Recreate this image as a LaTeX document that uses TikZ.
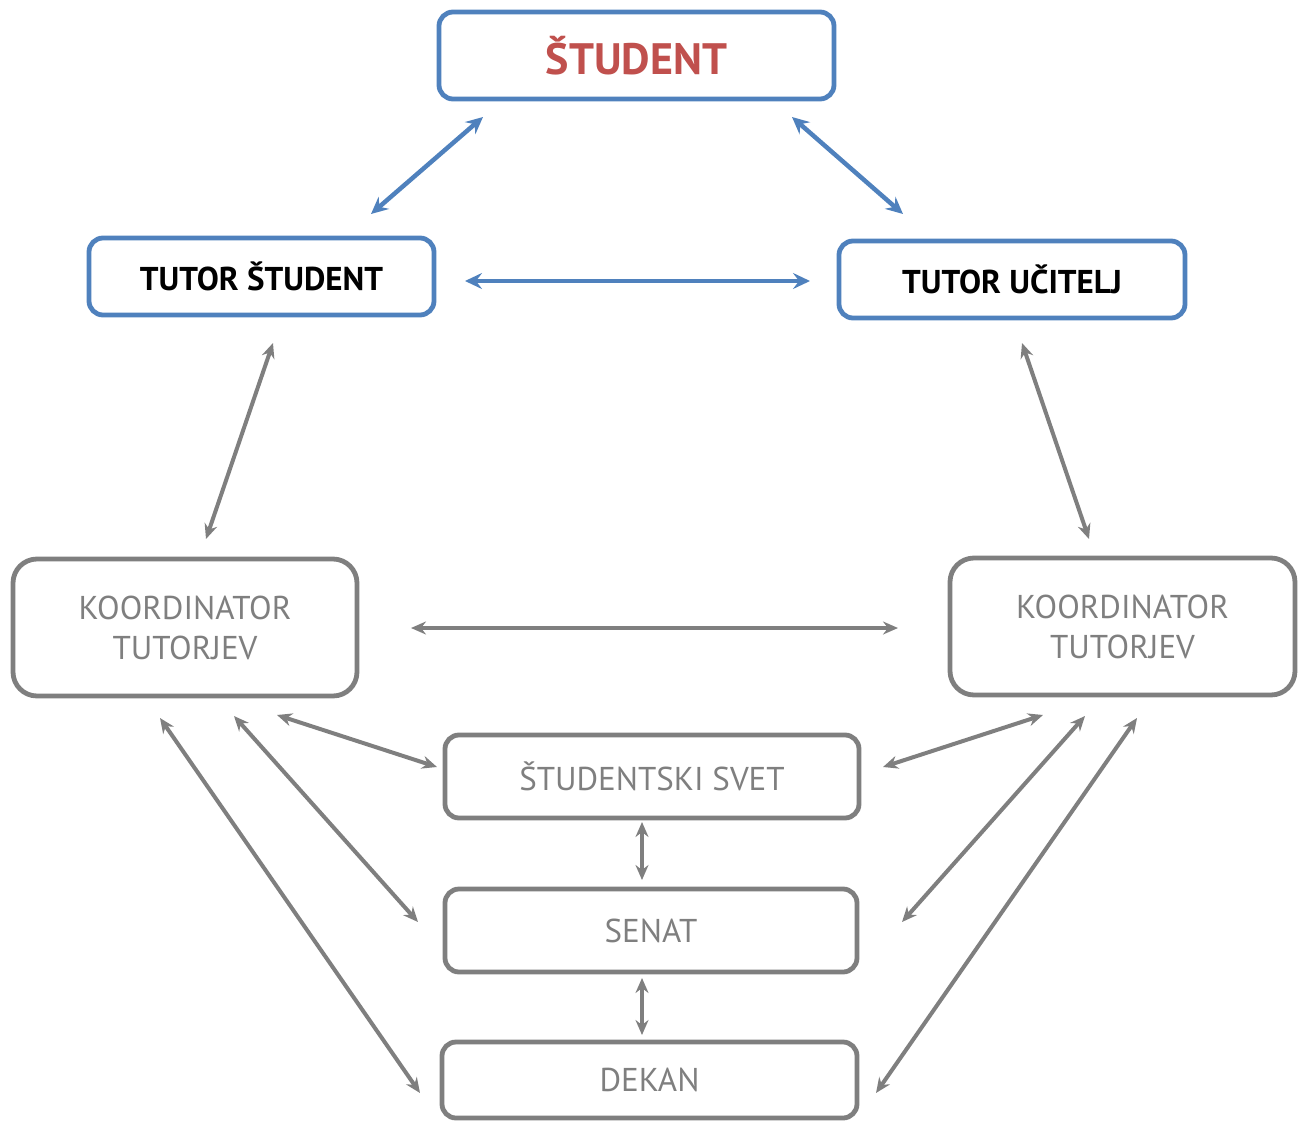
\documentclass[tikz,border=0pt]{standalone}
\usepackage{fontspec}
\setmainfont{PT Sans}
\usetikzlibrary{arrows.meta}
\definecolor{cblue}{HTML}{4F81BD}
\definecolor{cred}{HTML}{C0504D}
\definecolor{cgray}{HTML}{7F7F7F}
\tikzset{
  box/.style={draw, line width=4.8pt, rounded corners=14pt, align=center, inner sep=0pt},
  bluebox/.style={box, draw=cblue, fill=white},
  graybox/.style={box, draw=cgray, fill=white, text=cgray, font=\fontsize{33}{40}\selectfont},
  bluearr/.style={draw=cblue, line width=4.5pt, {Stealth[length=17pt,width=16pt,inset=6pt]}-{Stealth[length=17pt,width=16pt,inset=6pt]}},
  grayarr/.style={draw=cgray, line width=4pt, {Stealth[length=15pt,width=13pt,inset=5pt]}-{Stealth[length=15pt,width=13pt,inset=5pt]}},
}
\begin{document}
\begin{tikzpicture}[x=1pt,y=-1pt]
\useasboundingbox (0,0) rectangle (1307,1122);
% nodes
\node[bluebox, minimum width=395pt, minimum height=87pt, text=cred, font=\fontsize{44}{50}\selectfont\bfseries] (stud) at (636.5,55.5) {ŠTUDENT};
\node[bluebox, minimum width=345pt, minimum height=77pt, font=\fontsize{33}{40}\selectfont\bfseries] (ts) at (261.5,276.5) {TUTOR ŠTUDENT};
\node[bluebox, minimum width=346pt, minimum height=77pt, font=\fontsize{33}{40}\selectfont\bfseries] (tu) at (1012,279.5) {TUTOR UČITELJ};
\node[graybox, rounded corners=24pt, minimum width=344pt, minimum height=137pt] (kl) at (185,627.5) {KOORDINATOR\\TUTORJEV};
\node[graybox, rounded corners=24pt, minimum width=345pt, minimum height=137pt] (kr) at (1122.5,626.5) {KOORDINATOR\\TUTORJEV};
\node[graybox, minimum width=414pt, minimum height=83pt] (ss) at (652,776.5) {ŠTUDENTSKI SVET};
\node[graybox, minimum width=412pt, minimum height=83pt] (sen) at (651,930.5) {SENAT};
\node[graybox, minimum width=415pt, minimum height=76pt] (dek) at (649.5,1080) {DEKAN};
% connector end points
\coordinate (a1) at (483,117); \coordinate (a2) at (371,214);
\coordinate (b1) at (792,117); \coordinate (b2) at (903,214);
\coordinate (c1) at (465,281); \coordinate (c2) at (810,281);
\coordinate (d1) at (273,343); \coordinate (d2) at (206,539);
\coordinate (e1) at (1022,343); \coordinate (e2) at (1089,539);
\coordinate (f1) at (411,628); \coordinate (f2) at (898,628);
\coordinate (g1) at (277,715); \coordinate (g2) at (437,767);
\coordinate (h1) at (883,767); \coordinate (h2) at (1043,715);
\coordinate (i1) at (642,822); \coordinate (i2) at (642,880);
\coordinate (j1) at (642,978); \coordinate (j2) at (642,1035);
\coordinate (k1) at (234,716); \coordinate (k2) at (418,922);
\coordinate (l1) at (1085,716); \coordinate (l2) at (902,922);
\coordinate (m1) at (160,718); \coordinate (m2) at (420,1093);
\coordinate (n1) at (1137,718); \coordinate (n2) at (876,1093);
% connectors
\draw[bluearr] (a1) -- (a2);
\draw[bluearr] (b1) -- (b2);
\draw[bluearr] (c1) -- (c2);
\draw[grayarr] (d1) -- (d2);
\draw[grayarr] (e1) -- (e2);
\draw[grayarr] (f1) -- (f2);
\draw[grayarr] (g1) -- (g2);
\draw[grayarr] (h1) -- (h2);
\draw[grayarr] (i1) -- (i2);
\draw[grayarr] (j1) -- (j2);
\draw[grayarr] (k1) -- (k2);
\draw[grayarr] (l1) -- (l2);
\draw[grayarr] (m1) -- (m2);
\draw[grayarr] (n1) -- (n2);
\end{tikzpicture}
\end{document}
